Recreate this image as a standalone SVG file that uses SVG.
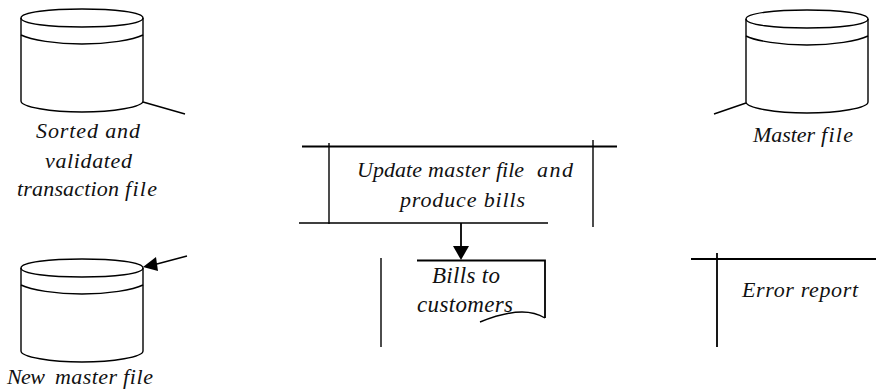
<svg xmlns="http://www.w3.org/2000/svg" width="876" height="390" viewBox="0 0 876 390">
<style>
.s{fill:none;stroke:#000;stroke-width:1.4}
.h{fill:none;stroke:#000;stroke-width:1.8}
text{font-family:"Liberation Serif","Times New Roman",serif;font-style:italic;font-size:22px;fill:#111}
</style>
<defs>
<g id="cyl">
<path class="s" d="M0 9C0 3 30 0 61 0C92 0 122 3 122 9C122 15 92 18 61 18C30 18 0 15 0 9Z"/>
<path class="s" d="M0 9V92C0 98 30 103 61 103C92 103 122 98 122 92V9"/>
<path class="s" d="M0 26C10 31 35 35 61 35C87 35 112 31 122 26"/>
</g>
</defs>
<g id="sorted-file">
<use href="#cyl" x="21" y="9"/>
<text x="36" y="138" textLength="104">Sorted and</text>
<text x="45" y="168" textLength="87">validated</text>
<text x="17" y="196" textLength="102">transaction</text>
<text x="125" y="196" textLength="32">file</text>
</g>
<g id="master-file">
<use href="#cyl" x="746" y="10"/>
<text x="753" y="142" textLength="62">Master</text>
<text x="821" y="142" textLength="32">file</text>
</g>
<g id="new-master-file">
<use href="#cyl" x="21" y="259"/>
<text x="7" y="384" textLength="38">New</text>
<text x="55" y="384" textLength="62">master</text>
<text x="123" y="384" textLength="30">file</text>
</g>
<g id="process">
<path class="h" d="M302 146.500H617"/>
<path class="s" d="M299 223H548M329 143V224M593 140V227"/>
<text x="357" y="177" textLength="65">Update</text>
<text x="428" y="177" textLength="62">master</text>
<text x="496" y="177" textLength="28">file</text>
<text x="537" y="177" textLength="36">and</text>
<text x="400" y="207" textLength="125">produce bills</text>
</g>
<g id="bills">
<path class="s" d="M381 258V347"/>
<path class="h" d="M417 260.500H545V318"/>
<path class="s" d="M480 322C495 316 510 312 522 312C532 312 540 315 545 318"/>
<text x="432" y="283" textLength="68" style="font-size:23px">Bills to</text>
<text x="417" y="312" textLength="96" style="font-size:23px">customers</text>
</g>
<g id="error-report">
<path class="h" d="M691 259H876M717 253V347"/>
<text x="742" y="297" textLength="116">Error report</text>
</g>
<g id="connectors">
<path class="s" d="M143 102L185 114M746 103L714 114M187 256L155 264.500"/>
<path class="h" d="M461 223V247"/>
<path d="M143 267L156 257L158 271Z" fill="#000"/>
<path d="M453 246H469L461 260Z" fill="#000"/>
</g>
</svg>
